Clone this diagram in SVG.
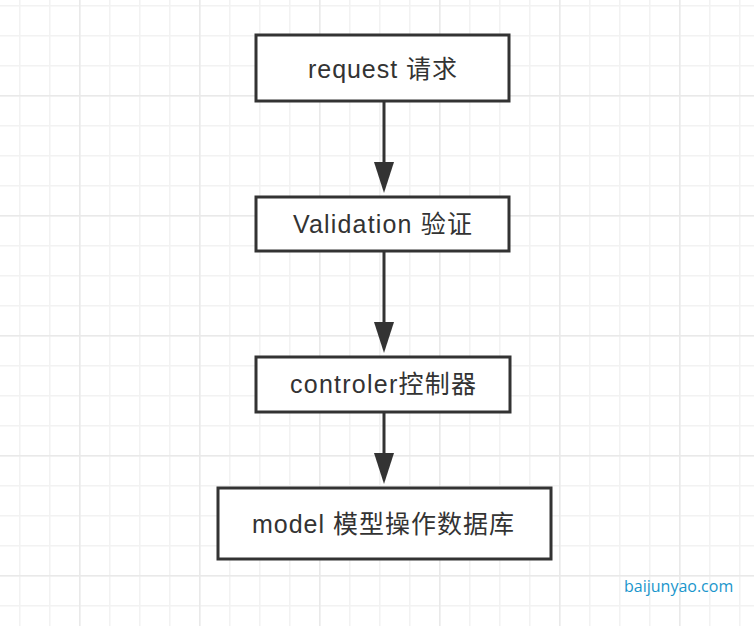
<svg xmlns="http://www.w3.org/2000/svg" width="754" height="626" viewBox="0 0 754 626">
<defs>
<pattern id="minor" x="19" y="5" width="30" height="30" patternUnits="userSpaceOnUse">
<path d="M0.5 0V30M0 0.5H30" fill="none" stroke="#f2f2f2" stroke-width="2"/>
</pattern>
<pattern id="major" x="79" y="95" width="120" height="120" patternUnits="userSpaceOnUse">
<path d="M0.5 0V120M0 0.5H120" fill="none" stroke="#e9e9e9" stroke-width="2"/>
</pattern>
</defs>
<style>
.box{fill:#fff;stroke:#333;stroke-width:3}
.lbl{font-family:"Liberation Sans","Noto Sans CJK SC",sans-serif;font-size:25px;fill:#333;text-anchor:middle}
.conn{stroke:#333;stroke-width:3;fill:none}
.ah{fill:#333}
</style>
<rect width="754" height="626" fill="#fff"/>
<rect width="754" height="626" fill="url(#minor)"/>
<rect width="754" height="626" fill="url(#major)"/>
<g id="connectors">
<line class="conn" x1="384" y1="101" x2="384" y2="165"/>
<path class="ah" d="M374 162L394 162L384 193Z"/>
<line class="conn" x1="384" y1="251" x2="384" y2="325"/>
<path class="ah" d="M374 322L394 322L384 353Z"/>
<line class="conn" x1="384" y1="412" x2="384" y2="456"/>
<path class="ah" d="M374 453L394 453L384 484Z"/>
</g>
<g id="node-request">
<rect class="box" x="256" y="35" width="253" height="66"/>
<text class="lbl" x="382.5" y="78" textLength="149" lengthAdjust="spacing">request 请求</text>
</g>
<g id="node-validation">
<rect class="box" x="256" y="197" width="253" height="54"/>
<text class="lbl" x="382.5" y="233" textLength="179" lengthAdjust="spacing">Validation 验证</text>
</g>
<g id="node-controller">
<rect class="box" x="256" y="357" width="254" height="55"/>
<text class="lbl" x="383" y="393" textLength="186" lengthAdjust="spacing">controler控制器</text>
</g>
<g id="node-model">
<rect class="box" x="218" y="488" width="333" height="71"/>
<text class="lbl" x="383" y="533" textLength="262" lengthAdjust="spacing">model 模型操作数据库</text>
</g>
<text x="624" y="592" font-family="'Open Sans',sans-serif" font-size="16" fill="#1a96cc">baijunyao.com</text>
</svg>
